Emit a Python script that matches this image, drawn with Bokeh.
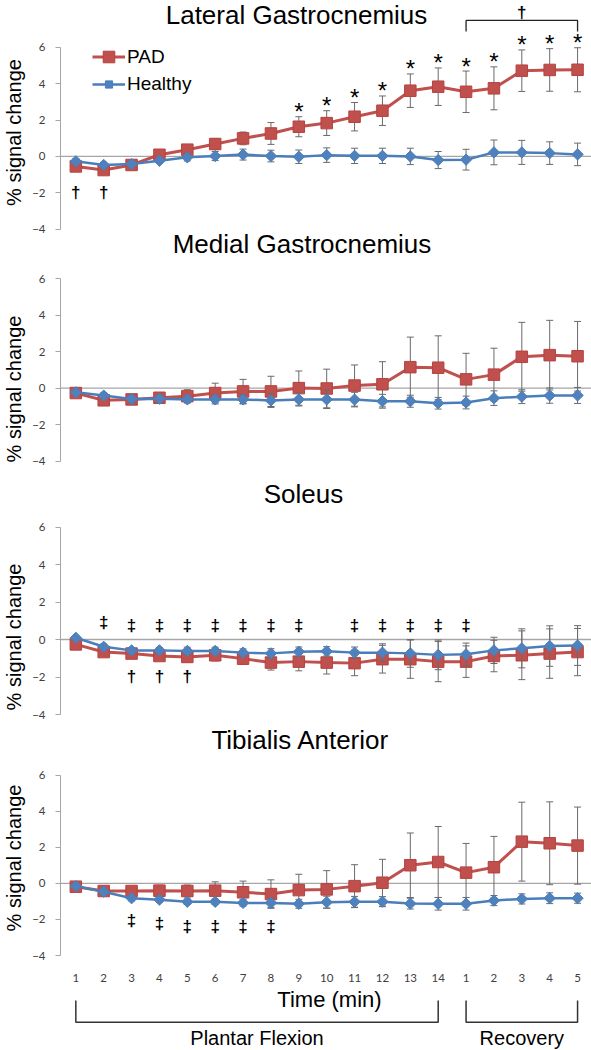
import numpy as np
from bokeh.plotting import figure
from bokeh.layouts import column
from bokeh.models import Range1d, FixedTicker, Span, Label, Legend, LegendItem
from bokeh.core.properties import value
from bokeh.embed import file_html
from bokeh.resources import INLINE

# ------------------------------------------------------------------ data
time_labels = [str(i) for i in range(1, 15)] + [str(i) for i in range(1, 6)]
phase_names = ["Plantar Flexion", "Recovery"]
phase_start = [1, 15]
phase_end = [14, 19]

titles = ["Lateral Gastrocnemius", "Medial Gastrocnemius", "Soleus", "Tibialis Anterior"]

lat_pad = [-0.55, -0.75, -0.47, 0.09, 0.37, 0.68, 0.99, 1.26, 1.63, 1.83, 2.18, 2.51, 3.61, 3.83, 3.55, 3.74, 4.71, 4.75, 4.76]
lat_pad_sd = [0.2, 0.2, 0.18, 0.15, 0.2, 0.3, 0.35, 0.6, 0.55, 0.68, 0.78, 0.81, 0.92, 1.03, 1.14, 1.18, 1.14, 1.17, 1.21]
lat_hea = [-0.27, -0.47, -0.42, -0.24, -0.05, 0.02, 0.1, 0.02, -0.02, 0.07, 0.03, 0.03, 0.0, -0.2, -0.18, 0.22, 0.22, 0.18, 0.11]
lat_hea_sd = [0.15, 0.15, 0.15, 0.15, 0.2, 0.25, 0.3, 0.32, 0.37, 0.4, 0.42, 0.42, 0.45, 0.47, 0.57, 0.68, 0.66, 0.62, 0.62]

med_pad = [-0.27, -0.67, -0.62, -0.53, -0.44, -0.27, -0.18, -0.18, 0.0, -0.02, 0.14, 0.21, 1.15, 1.12, 0.48, 0.74, 1.72, 1.81, 1.75]
med_pad_sd = [0.15, 0.2, 0.2, 0.25, 0.35, 0.54, 0.66, 0.83, 0.94, 1.06, 1.13, 1.24, 1.65, 1.75, 1.43, 1.45, 1.89, 1.91, 1.91]
med_hea = [-0.23, -0.41, -0.6, -0.58, -0.62, -0.62, -0.62, -0.68, -0.62, -0.62, -0.63, -0.72, -0.72, -0.83, -0.79, -0.55, -0.47, -0.41, -0.4]
med_hea_sd = [0.1, 0.15, 0.2, 0.2, 0.2, 0.25, 0.25, 0.38, 0.36, 0.5, 0.4, 0.38, 0.33, 0.32, 0.35, 0.4, 0.38, 0.42, 0.44]

sol_pad = [-0.26, -0.67, -0.75, -0.88, -0.93, -0.84, -1.02, -1.23, -1.18, -1.23, -1.26, -1.05, -1.05, -1.18, -1.18, -0.88, -0.84, -0.75, -0.67]
sol_pad_sd = [0.15, 0.2, 0.2, 0.22, 0.25, 0.3, 0.3, 0.4, 0.49, 0.61, 0.67, 0.74, 1.02, 1.07, 0.84, 0.84, 1.3, 1.32, 1.26]
sol_hea = [0.09, -0.39, -0.58, -0.58, -0.61, -0.61, -0.7, -0.74, -0.65, -0.63, -0.7, -0.7, -0.74, -0.82, -0.79, -0.58, -0.47, -0.35, -0.32]
sol_hea_sd = [0.1, 0.15, 0.15, 0.15, 0.2, 0.2, 0.2, 0.25, 0.25, 0.25, 0.3, 0.47, 0.74, 0.79, 0.6, 0.7, 1.04, 1.08, 1.06]

tib_pad = [-0.18, -0.42, -0.42, -0.4, -0.42, -0.4, -0.49, -0.59, -0.37, -0.33, -0.15, 0.04, 1.01, 1.19, 0.6, 0.9, 2.32, 2.23, 2.1]
tib_pad_sd = [0.15, 0.2, 0.2, 0.3, 0.33, 0.49, 0.62, 0.79, 0.88, 1.04, 1.19, 1.3, 1.79, 1.97, 1.62, 1.71, 2.19, 2.3, 2.14]
tib_hea = [-0.15, -0.46, -0.82, -0.9, -1.02, -1.02, -1.08, -1.08, -1.13, -1.04, -1.02, -1.01, -1.12, -1.13, -1.13, -0.95, -0.86, -0.82, -0.82]
tib_hea_sd = [0.1, 0.1, 0.15, 0.15, 0.15, 0.15, 0.18, 0.25, 0.25, 0.33, 0.3, 0.28, 0.3, 0.35, 0.35, 0.28, 0.28, 0.3, 0.28]

# significance symbols: (symbol, time indices, y of symbol centre; None = just above PAD error bar)
lat_symbols = [("*", list(range(9, 20)), None),
               ("\u2020", [1, 2], [-2.0, -2.0])]
med_symbols = []
sol_symbols = [("\u2021", [2, 3, 4, 5, 6, 7, 8, 9, 11, 12, 13, 14, 15],
                [0.93, 0.75, 0.75, 0.75, 0.75, 0.75, 0.75, 0.75, 0.75, 0.75, 0.75, 0.75, 0.75]),
               ("\u2020", [3, 4, 5], [-1.96, -1.96, -1.96])]
tib_symbols = [("\u2021", [3, 4, 5, 6, 7, 8], [-2.05, -2.23, -2.38, -2.38, -2.38, -2.38])]

panels = [
    (lat_pad, lat_pad_sd, lat_hea, lat_hea_sd, lat_symbols),
    (med_pad, med_pad_sd, med_hea, med_hea_sd, med_symbols),
    (sol_pad, sol_pad_sd, sol_hea, sol_hea_sd, sol_symbols),
    (tib_pad, tib_pad_sd, tib_hea, tib_hea_sd, tib_symbols),
]

# ------------------------------------------------------------------ style / layout
W = 591
LEFT = 53
PAD_COLOR = "#c0504d"
PAD_EDGE = "#b5423f"
HEA_COLOR = "#4f81bd"
HEA_LINE = "#4a7ebb"
ERR_COLOR = "#6a6a6a"
AXIS_GRAY = "#a6a6a6"
TXT = "Liberation Sans"
TICK_FONT = "Lato"

# page pixel layout: figure top / frame bottom, pixel of y=6 and y=-4
fig_top = [0, 264, 513, 760]
fig_bot = [264, 513, 760, 957]
px_six = [46.7, 278.3, 526.5, 775.0]
px_m4 = [228.7, 460.5, 714.0, 957.0]
title_mid = [14.0, 243.3, 493.3, 739.0]
title_cx = [289, 294.5, 296, 293]
XAX_H = 27

x = np.arange(1, len(time_labels) + 1)

figs = []
for k, (pad, pad_sd, hea, hea_sd, symbols) in enumerate(panels):
    s = (px_m4[k] - px_six[k]) / 10.0
    y_top = 6 + (px_six[k] - fig_top[k]) / s
    y_bot = -4 - (fig_bot[k] - px_m4[k]) / s
    frame_h = fig_bot[k] - fig_top[k]
    last = (k == 3)
    h = frame_h + (XAX_H if last else 0)
    p = figure(width=W, height=h, x_range=Range1d(0.45, 19.5), y_range=Range1d(y_bot, y_top),
               output_backend="svg", toolbar_location=None,
               min_border_left=LEFT, min_border_right=0, min_border_top=0,
               min_border_bottom=(XAX_H if last else 0),
               x_axis_location=("below" if last else None))
    p.outline_line_color = None
    p.grid.visible = False
    p.background_fill_color = "white"
    p.border_fill_color = "white"

    yax = p.yaxis[0]
    yax.bounds = (-4, 6)
    yax.ticker = FixedTicker(ticks=[-4, -2, 0, 2, 4, 6])
    yax.minor_tick_line_color = None
    yax.axis_line_color = AXIS_GRAY
    yax.major_tick_line_color = AXIS_GRAY
    yax.major_tick_out = 5
    yax.major_tick_in = 0
    yax.major_label_standoff = 10
    yax.major_label_text_font = TICK_FONT
    yax.major_label_text_font_size = "11.5px"
    yax.major_label_text_color = "#404040"
    yax.axis_label = "% signal change"
    yax.axis_label_text_font = TXT
    yax.axis_label_text_font_size = "20px"
    yax.axis_label_text_font_style = "normal"
    yax.axis_label_text_color = "black"
    yax.axis_label_standoff = 4

    if last:
        xax = p.xaxis[0]
        xax.ticker = FixedTicker(ticks=list(x))
        xax.major_label_overrides = {int(i): lab for i, lab in zip(x, time_labels)}
        xax.axis_line_color = None
        xax.major_tick_line_color = None
        xax.minor_tick_line_color = None
        xax.major_label_standoff = 12
        xax.major_label_text_font = TICK_FONT
        xax.major_label_text_font_size = "11.5px"
        xax.major_label_text_color = "#404040"

    p.add_layout(Span(location=0, dimension="width", line_color=AXIS_GRAY, line_width=1.3, level="underlay"))

    pad_a = np.array(pad); pad_s = np.array(pad_sd)
    hea_a = np.array(hea); hea_s = np.array(hea_sd)

    # PAD series
    p.segment(x, pad_a - pad_s, x, pad_a + pad_s, line_color=ERR_COLOR, line_width=1)
    p.scatter(np.concatenate([x, x]), np.concatenate([pad_a - pad_s, pad_a + pad_s]),
              marker="dash", size=7, line_color=ERR_COLOR, line_width=1)
    pad_line = p.line(x, pad_a, line_color=PAD_COLOR, line_width=3)
    pad_pts = p.scatter(x, pad_a, marker="square", size=11.5, fill_color=PAD_COLOR, line_color=PAD_EDGE)

    # Healthy series
    p.segment(x, hea_a - hea_s, x, hea_a + hea_s, line_color=ERR_COLOR, line_width=1)
    p.scatter(np.concatenate([x, x]), np.concatenate([hea_a - hea_s, hea_a + hea_s]),
              marker="dash", size=7, line_color=ERR_COLOR, line_width=1)
    hea_line = p.line(x, hea_a, line_color=HEA_LINE, line_width=2.5)
    hea_pts = p.scatter(x, hea_a, marker="square", angle=np.pi / 4, size=8, fill_color=HEA_COLOR,
                        line_color=HEA_LINE)

    for sym, idx, ys in symbols:
        idx_a = np.array(idx)
        if ys is None:
            yy = pad_a[idx_a - 1] + pad_s[idx_a - 1]
            p.text(idx_a, yy, text=[sym] * len(idx), text_font=value(TXT), text_font_size="24px",
                   text_align="center", text_baseline="middle", text_color="black", y_offset=-5)
        else:
            p.text(idx_a, np.array(ys), text=[sym] * len(idx), text_font=value(TXT), text_font_size="17px",
                   text_font_style="bold", text_align="center", text_baseline="middle",
                   text_color="black", y_offset=0)

    if k == 0:
        b0, b1 = phase_start[1], phase_end[1]
        p.line([b0, b0, b1, b1], [6.86, 7.47, 7.47, 6.86], line_color="#222222", line_width=1.3)
        p.text([(b0 + b1) / 2], [7.92], text=["\u2020"], text_font=value(TXT), text_font_size="17px",
               text_font_style="bold", text_align="center", text_baseline="middle",
               text_color="black", y_offset=0)
        fb = fig_bot[0]
        leg_pad = Legend(items=[LegendItem(label="PAD", renderers=[pad_line, pad_pts])],
                         location=(32, fb - (56.7 + 14.5)),
                         glyph_width=33, glyph_height=29, label_height=29, padding=0, margin=0,
                         spacing=0, label_standoff=2, border_line_color=None, background_fill_alpha=0,
                         label_text_font=TXT, label_text_font_size="19px", label_text_color="black")
        leg_hea = Legend(items=[LegendItem(label="Healthy", renderers=[hea_line, hea_pts])],
                         location=(32, fb - (86.3 + 9)),
                         glyph_width=33, glyph_height=18, label_height=18, padding=0, margin=0,
                         spacing=0, label_standoff=2, border_line_color=None, background_fill_alpha=0,
                         label_text_font=TXT, label_text_font_size="19px", label_text_color="black")
        p.add_layout(leg_pad)
        p.add_layout(leg_hea)
    figs.append(p)

# panel titles: each drawn in the figure whose area holds it
for k, title in enumerate(titles):
    f = 0 if k == 0 else k - 1
    figs[f].add_layout(Label(x=title_cx[k] - LEFT, y=fig_bot[f] - title_mid[k],
                             x_units="screen", y_units="screen",
                             text=title, text_align="center", text_baseline="middle",
                             text_font=TXT, text_font_size="26px", text_color="black"))

# ------------------------------------------------------------------ bottom strip: time label and phase brackets
B5 = fig_bot[3] + XAX_H
H5 = 1050 - B5
p5 = figure(width=W, height=H5, x_range=figs[3].x_range, y_range=Range1d(0, H5),
            output_backend="svg", toolbar_location=None,
            min_border_left=LEFT, min_border_right=0, min_border_top=0, min_border_bottom=0,
            x_axis_location=None, y_axis_location=None)
p5.outline_line_color = None
p5.grid.visible = False
p5.add_layout(Label(x=(W - LEFT) / 2, y=1050 - 998.5, x_units="screen", y_units="screen",
                    text="Time (min)", text_align="center", text_baseline="middle",
                    text_font=TXT, text_font_size="22px", text_color="black"))
br_top = 1050 - 1000
br_bot = 1050 - 1021.7
p5.multi_line([[a, a, b, b] for a, b in zip(phase_start, phase_end)],
              [[br_top, br_bot, br_bot, br_top] for _ in phase_start],
              line_color="#333333", line_width=1.5)
p5.text([(a + b) / 2 for a, b in zip(phase_start, phase_end)], [1050 - 1037.5] * 2,
        text=phase_names, text_font=value(TXT), text_font_size="20px",
        text_align="center", text_baseline="middle", text_color="black")
figs.append(p5)

layout = column(*figs, spacing=0)
open("out.html", "w").write(file_html(layout, INLINE))
